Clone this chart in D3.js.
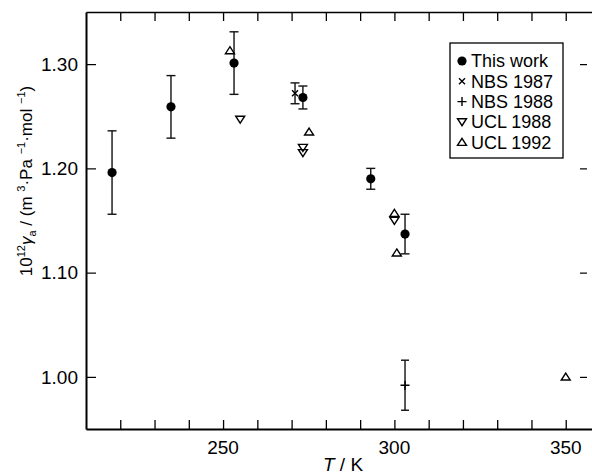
<!DOCTYPE html>
<html>
<head>
<meta charset="utf-8">
<script src="https://cdn.jsdelivr.net/npm/d3@7/dist/d3.min.js"></script>
<style>
  body { margin: 0; background: #fff; }
  svg { display: block; font-family: "Liberation Sans", Arial, Helvetica, sans-serif; }
</style>
</head>
<body>
<div id="chart"></div>
<script>
// this work (filled circles, with error bars)
var thisWorkT   = [217.6, 234.8, 253.2, 273.3, 293.1, 303.1];
var thisWorkV   = [1.196, 1.259, 1.301, 1.268, 1.190, 1.137];
var thisWorkErr = [0.040, 0.030, 0.030, 0.011, 0.010, 0.019];
// NBS 1987 (x) and NBS 1988 (+), with error bars
var nbs87T = [271.0], nbs87V = [1.272], nbs87Err = [0.010];
var nbs88T = [303.1], nbs88V = [0.992], nbs88Err = [0.024];
// UCL 1988 (down triangles) and UCL 1992 (up triangles)
var ucl88T = [255.0, 273.3, 273.3, 300.0];
var ucl88V = [1.247, 1.220, 1.215, 1.150];
var ucl92T = [252.0, 275.1, 300.0, 300.7, 350.0];
var ucl92V = [1.313, 1.235, 1.157, 1.119, 1.000];

var legendLabels = ['This work', 'NBS 1987', 'NBS 1988', 'UCL 1988', 'UCL 1992'];
var xTicksMajor = [250, 300, 350];
var yTicks = [1.00, 1.10, 1.20, 1.30];

var W = 592, H = 476;
var mLeft = 86, mTop = 12, mBottom = 429, mRight = 600;

var svg = d3.select('#chart').append('svg')
    .attr('width', W).attr('height', H);

var x = d3.scaleLinear().domain([210, 360]).range([mLeft, mRight]);
var y = d3.scaleLinear().domain([0.95, 1.35]).range([mBottom, mTop]);

var minorX = d3.range(220, 360, 10);

// bottom axis
var gb = svg.append('g').attr('transform', 'translate(0,' + mBottom + ')')
    .call(d3.axisBottom(x).tickValues(minorX).tickSizeInner(-9).tickSizeOuter(0).tickFormat(''));
gb.select('.domain').attr('stroke-width', 2);
gb.selectAll('.tick line').attr('stroke-width', 1.3);
svg.selectAll('.xlbl').data(xTicksMajor).enter().append('text')
    .attr('x', function(d) { return x(d); })
    .attr('y', 454)
    .attr('text-anchor', 'middle')
    .style('font-size', '19px')
    .text(function(d) { return d; });

// top axis
var gt = svg.append('g').attr('transform', 'translate(0,' + mTop + ')')
    .call(d3.axisTop(x).tickValues(minorX).tickSizeInner(-9).tickSizeOuter(0).tickFormat(''));
gt.select('.domain').attr('stroke-width', 1.6);
gt.selectAll('.tick line').attr('stroke-width', 1.3);

// left axis
var gl = svg.append('g').attr('transform', 'translate(' + mLeft + ',0)')
    .call(d3.axisLeft(y).tickValues(yTicks).tickSizeInner(-10).tickSizeOuter(0).tickFormat(''));
gl.select('.domain').attr('stroke-width', 2);
gl.selectAll('.tick line').attr('stroke-width', 1.2);
svg.selectAll('.ylbl').data(yTicks).enter().append('text')
    .attr('x', 78)
    .attr('y', function(d) { return y(d); })
    .attr('dy', '0.36em')
    .attr('text-anchor', 'end')
    .style('font-size', '19px')
    .text(function(d) { return d.toFixed(2); });

// right ticks (frame itself is cut off)
var gr = svg.append('g').attr('transform', 'translate(587,0)')
    .call(d3.axisLeft(y).tickValues(yTicks).tickSizeInner(7).tickSizeOuter(0).tickFormat(''));
gr.select('.domain').remove();
gr.selectAll('.tick line').attr('stroke-width', 1.2);

// axis titles
var xt = svg.append('text').attr('x', 343).attr('y', 471)
    .attr('text-anchor', 'middle').style('font-size', '19px');
xt.append('tspan').style('font-style', 'italic').text('T');
xt.append('tspan').text(' / K');

var yt = svg.append('text')
    .attr('transform', 'translate(32,181) rotate(-90)')
    .attr('text-anchor', 'middle').style('font-size', '17px');
yt.append('tspan').text('10');
yt.append('tspan').attr('dy', -7).style('font-size', '11px').text('12');
yt.append('tspan').attr('dy', 7).style('font-style', 'italic').text('γ');
yt.append('tspan').attr('dy', 4).style('font-size', '11px').text('a');
yt.append('tspan').attr('dy', -4).text(' / (m ');
yt.append('tspan').attr('dy', -7).style('font-size', '11px').text('3');
yt.append('tspan').attr('dy', 7).text('·Pa ');
yt.append('tspan').attr('dy', -7).style('font-size', '11px').text('−1');
yt.append('tspan').attr('dy', 7).text('·mol ');
yt.append('tspan').attr('dy', -7).style('font-size', '11px').text('−1');
yt.append('tspan').attr('dy', 7).text(')');

// helpers
function errorBars(T, V, E, cap) {
    var data = d3.zip(T, V, E);
    var g = svg.append('g').attr('stroke', '#111').attr('stroke-width', 1.4).attr('fill', 'none');
    g.selectAll('.v').data(data).enter().append('line')
        .attr('x1', function(d) { return x(d[0]); }).attr('x2', function(d) { return x(d[0]); })
        .attr('y1', function(d) { return y(d[1] + d[2]); }).attr('y2', function(d) { return y(d[1] - d[2]); });
    [1, -1].forEach(function(s) {
        g.selectAll('.c').data(data).enter().append('line')
            .attr('x1', function(d) { return x(d[0]) - cap; }).attr('x2', function(d) { return x(d[0]) + cap; })
            .attr('y1', function(d) { return y(d[1] + s * d[2]); }).attr('y2', function(d) { return y(d[1] + s * d[2]); });
    });
}
function triPath(up) {
    var w = 4.5, h = 7;
    if (up) return 'M0,' + (-h * 0.55) + 'L' + w + ',' + (h * 0.45) + 'L' + (-w) + ',' + (h * 0.45) + 'Z';
    return 'M0,' + (h * 0.55) + 'L' + w + ',' + (-h * 0.45) + 'L' + (-w) + ',' + (-h * 0.45) + 'Z';
}
var markers = {
    circle: function(g) { g.append('circle').attr('r', 4.6).attr('fill', '#000'); },
    cross: function(g) { g.append('path').attr('d', 'M-3,-3L3,3M-3,3L3,-3').attr('stroke', '#000').attr('stroke-width', 1.4); },
    plus: function(g) { g.append('path').attr('d', 'M-4.5,0H4.5M0,-4.5V4.5').attr('stroke', '#000').attr('stroke-width', 1.4); },
    down: function(g) { g.append('path').attr('d', triPath(false)).attr('fill', 'none').attr('stroke', '#000').attr('stroke-width', 1.4); },
    up: function(g) { g.append('path').attr('d', triPath(true)).attr('fill', 'none').attr('stroke', '#000').attr('stroke-width', 1.4); }
};
function points(T, V, kind) {
    svg.append('g').selectAll('g').data(d3.zip(T, V)).enter().append('g')
        .attr('transform', function(d) { return 'translate(' + x(d[0]) + ',' + y(d[1]) + ')'; })
        .each(function() { markers[kind](d3.select(this)); });
}

errorBars(thisWorkT, thisWorkV, thisWorkErr, 4.5);
errorBars(nbs87T, nbs87V, nbs87Err, 4.5);
errorBars(nbs88T, nbs88V, nbs88Err, 4);
points(ucl92T, ucl92V, 'up');
points(ucl88T, ucl88V, 'down');
points(nbs87T, nbs87V, 'cross');
points(nbs88T, nbs88V, 'plus');
points(thisWorkT, thisWorkV, 'circle');

// legend
var lg = svg.append('g');
lg.append('rect').attr('x', 450).attr('y', 43).attr('width', 113).attr('height', 115)
    .attr('fill', '#fff').attr('stroke', '#000').attr('stroke-width', 1.3);
var kinds = ['circle', 'cross', 'plus', 'down', 'up'];
legendLabels.forEach(function(lab, i) {
    var cy = 61 + i * 20.3;
    var s = lg.append('g').attr('transform', 'translate(462,' + cy + ')');
    markers[kinds[i]](s);
    lg.append('text').attr('x', 471).attr('y', cy).attr('dy', '0.36em')
        .style('font-size', '18px').text(lab);
});
</script>
</body>
</html>
